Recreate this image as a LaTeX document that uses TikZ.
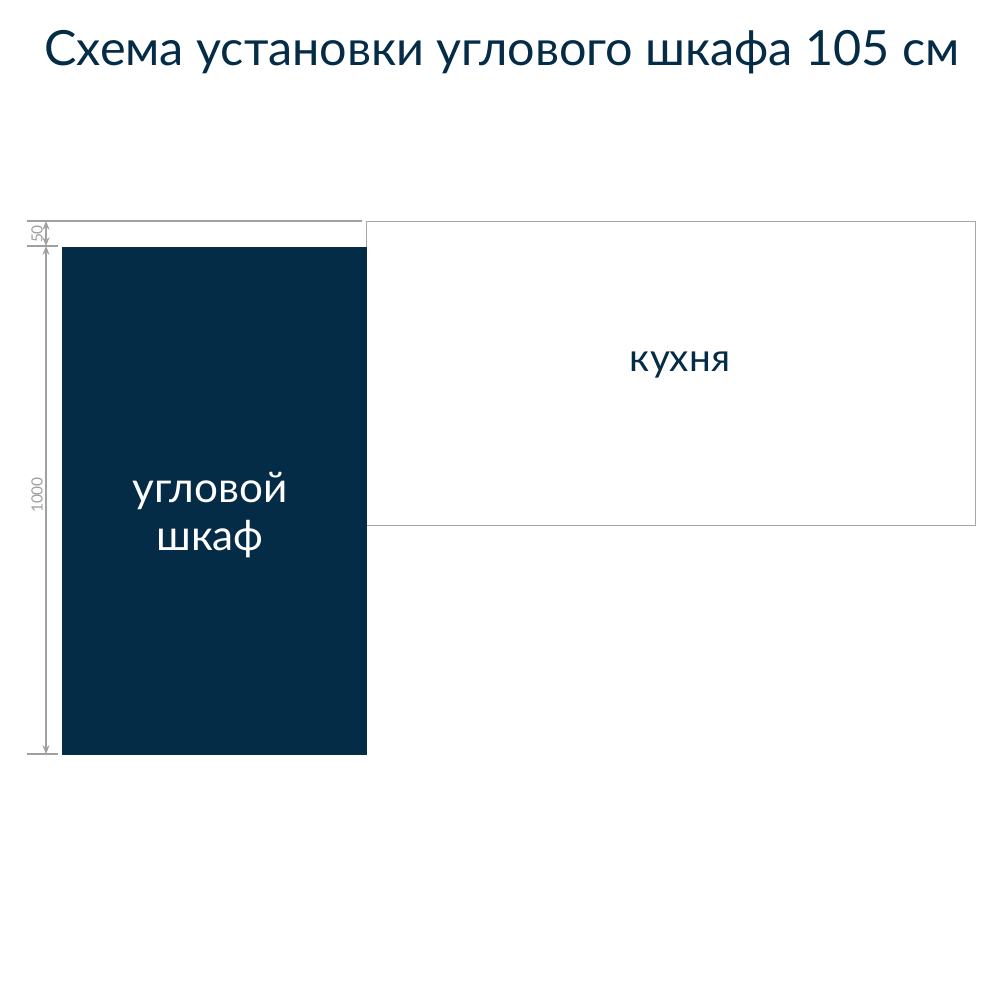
\documentclass[tikz,border=0pt]{standalone}
\usepackage{fontspec}
\setmainfont{Lato}
\usetikzlibrary{arrows.meta}
\definecolor{navy}{HTML}{052C47}
\definecolor{dimgray}{HTML}{A0A0A0}
\begin{document}
\begin{tikzpicture}[x=0.01cm,y=-0.01cm,
  dimline/.style={draw=dimgray,line width=0.3pt},
  dimarrow/.style={dimline,{Stealth[length=2.5pt,width=2pt]}-{Stealth[length=2.5pt,width=2pt]}},
  dimtext/.style={text=dimgray,font=\fontsize{4.4}{5}\selectfont,rotate=90,inner sep=0.5pt},
  outline/.style={draw=gray!70,line width=0.4pt}]
\path[use as bounding box,fill=white] (0,0) rectangle (1000,1000);
\node[text=navy,font=\fontsize{13.8}{16}\selectfont] (title) at (502,52) {Схема установки углового шкафа 105 см};
% kitchen
\node[outline,minimum width=609*0.01cm,minimum height=304*0.01cm,anchor=north west,inner sep=0] (kitchen) at (366,221) {};
\node[text=navy,font=\fontsize{11}{13}\selectfont] (kt) at (680,365) {кухня};
% cabinet
\node[fill=navy,minimum width=305*0.01cm,minimum height=508*0.01cm,anchor=north west,inner sep=0] (cab) at (61,246) {};
\node[text=white,font=\fontsize{12}{14}\selectfont,align=center] (ct) at (210,515) {угловой\\[-0.5pt]шкаф};
% dimensions
\coordinate (e1a) at (27,221); \coordinate (e1b) at (362,221);
\coordinate (e2a) at (27,246); \coordinate (e2b) at (58,246);
\coordinate (e3a) at (27,754); \coordinate (e3b) at (58,754);
\draw[dimline] (e1a) -- (e1b);
\draw[dimline] (e2a) -- (e2b);
\draw[dimline] (e3a) -- (e3b);
\coordinate (d1) at (46,221); \coordinate (d2) at (46,246); \coordinate (d3) at (46,754);
\draw[dimarrow] (d1) -- (d2);
\draw[dimarrow] (d2) -- (d3);
\node[dimtext] (t50) at (37,234) {50};
\node[dimtext] (t1000) at (37,495) {1000};
\end{tikzpicture}
\end{document}
